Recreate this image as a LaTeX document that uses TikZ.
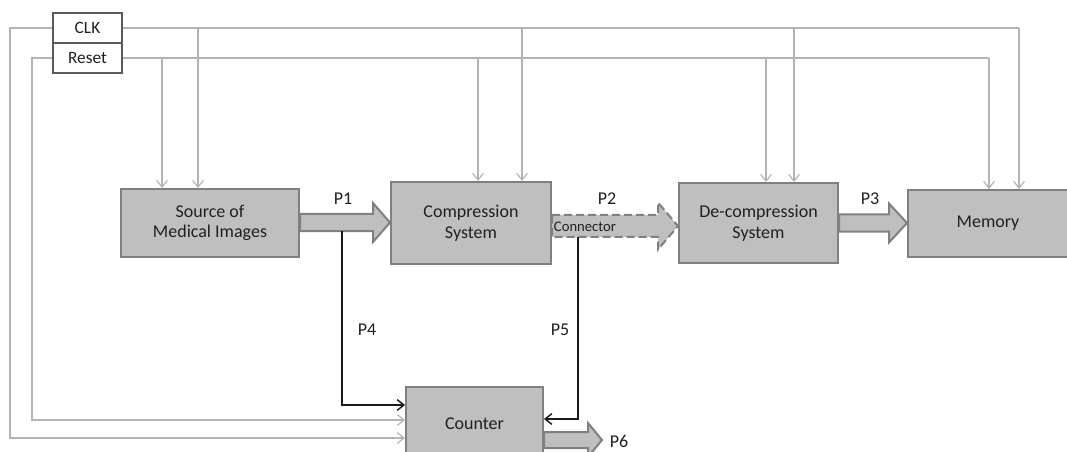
\documentclass[tikz,border=0pt]{standalone}
\usepackage{fontspec}
\setmainfont{Carlito}
\usetikzlibrary{arrows.meta,calc}
\definecolor{boxfill}{HTML}{BFBFBF}
\definecolor{boxline}{HTML}{808080}
\definecolor{sigline}{HTML}{B4B4B4}
\definecolor{txt}{HTML}{202020}
\definecolor{ctlline}{HTML}{5A5A5A}
\tikzset{
  box/.style={draw=boxline, line width=1.5pt, fill=boxfill, text=txt, align=center,
    font=\fontsize{13.5}{15.5}\selectfont, inner sep=0pt},
  ctl/.style={draw=ctlline, line width=1.6pt, fill=white, text=txt, inner sep=0pt,
    minimum width=51.75pt, minimum height=22.5pt, font=\fontsize{13}{14}\selectfont},
  sig/.style={draw=sigline, line width=0.9pt, -{Straight Barb[length=5pt,width=8pt]}},
  sigx/.style={draw=sigline, line width=0.9pt},
  blk/.style={draw=black!90, line width=1.1pt, -{Straight Barb[length=5pt,width=8pt]}},
  barrow/.style={draw=boxline, line width=1.5pt, fill=boxfill, line join=miter},
  plab/.style={text=txt, font=\fontsize{13.5}{15}\selectfont, inner sep=0pt},
}
\newcommand\blockarr[6][]{%
  \draw[barrow,#1] let \p1=(#2), \p2=(#3) in
    (\x1,\y1+#4) -- (\x2-#6,\y1+#4) -- (\x2-#6,\y1+#5) -- (\x2,\y1)
    -- (\x2-#6,\y1-#5) -- (\x2-#6,\y1-#4) -- (\x1,\y1-#4) -- cycle;}
\begin{document}
\begin{tikzpicture}[x=0.75pt,y=-0.75pt]
\useasboundingbox (0,0) rectangle (1067,452);
\clip (0,0) rectangle (1067,452);

% main blocks
\node[box, minimum width=133.5pt, minimum height=51pt] (src) at (210,223) {Source of\\Medical Images};
\node[box, minimum width=120pt, minimum height=61.5pt] (comp) at (471,223) {Compression\\System};
\node[box, minimum width=119.25pt, minimum height=60pt] (decomp) at (758.5,223) {De-compression\\System};
\node[box, minimum width=120pt, minimum height=50.25pt] (mem) at (988,223.5) {Memory};
\node[box, minimum width=102.75pt, minimum height=54.75pt] (counter) at (474.5,423.5) {Counter};

% control box
\node[ctl] (clk) at (87.5,28) {CLK};
\node[ctl] (reset) at (87.5,58) {Reset};

% taps
\coordinate (rstL) at (32,420);
\coordinate (clkL) at (10,438);
\coordinate (rstR) at (989,58);
\coordinate (clkR) at (1019,28);
\coordinate (r1) at (162,58);
\coordinate (r2) at (478,58);
\coordinate (r3) at (766,58);
\coordinate (c1) at (198,28);
\coordinate (c2) at (522,28);
\coordinate (c3) at (794,28);

% reset lines
\draw[sigx] (reset.east) -- (rstR);
\draw[sig] (reset.west) -| (rstL) -- (rstL -| counter.west);
\draw[sig] (rstR) -- (rstR |- mem.north);
\draw[sig] (r1) -- (r1 |- src.north);
\draw[sig] (r2) -- (r2 |- comp.north);
\draw[sig] (r3) -- (r3 |- decomp.north);

% clock lines
\draw[sigx] (clk.east) -- (clkR);
\draw[sig] (clk.west) -| (clkL) -- (clkL -| counter.west);
\draw[sig] (clkR) -- (clkR |- mem.north);
\draw[sig] (c1) -- (c1 |- src.north);
\draw[sig] (c2) -- (c2 |- comp.north);
\draw[sig] (c3) -- (c3 |- decomp.north);

% block arrows
\blockarr{$(src.east)+(0,-0.5)$}{comp.west}{6.4pt}{14.6pt}{12.75pt}
\blockarr[dash pattern=on 6pt off 3pt]{$(comp.east)+(0,3)$}{decomp.west}{8.25pt}{17.6pt}{15pt}
\blockarr{decomp.east}{mem.west}{6.4pt}{14.6pt}{13.5pt}
\coordinate (p6tip) at (602,440);
\blockarr{counter.east |- p6tip}{p6tip}{6pt}{12.75pt}{10.5pt}

% P4 / P5
\coordinate (p4s) at (342,231);
\coordinate (p5s) at (578,237);
\draw[blk] (p4s) |- ($(counter.north west)+(0,19)$);
\draw[blk] (p5s) |- ($(counter.north east)+(0,33)$);

% labels
\node[plab] (lp1) at (343,199) {P1};
\node[plab] (lp2) at (607,199) {P2};
\node[plab] (lp3) at (870,199) {P3};
\node[plab] (lp4) at (367,330) {P4};
\node[plab] (lp5) at (560,330) {P5};
\node[plab] (lp6) at (619,441) {P6};
\node[text=txt, font=\fontsize{11}{12}\selectfont, inner sep=0pt] (lconn) at (585,227) {Connector};
\end{tikzpicture}
\end{document}
